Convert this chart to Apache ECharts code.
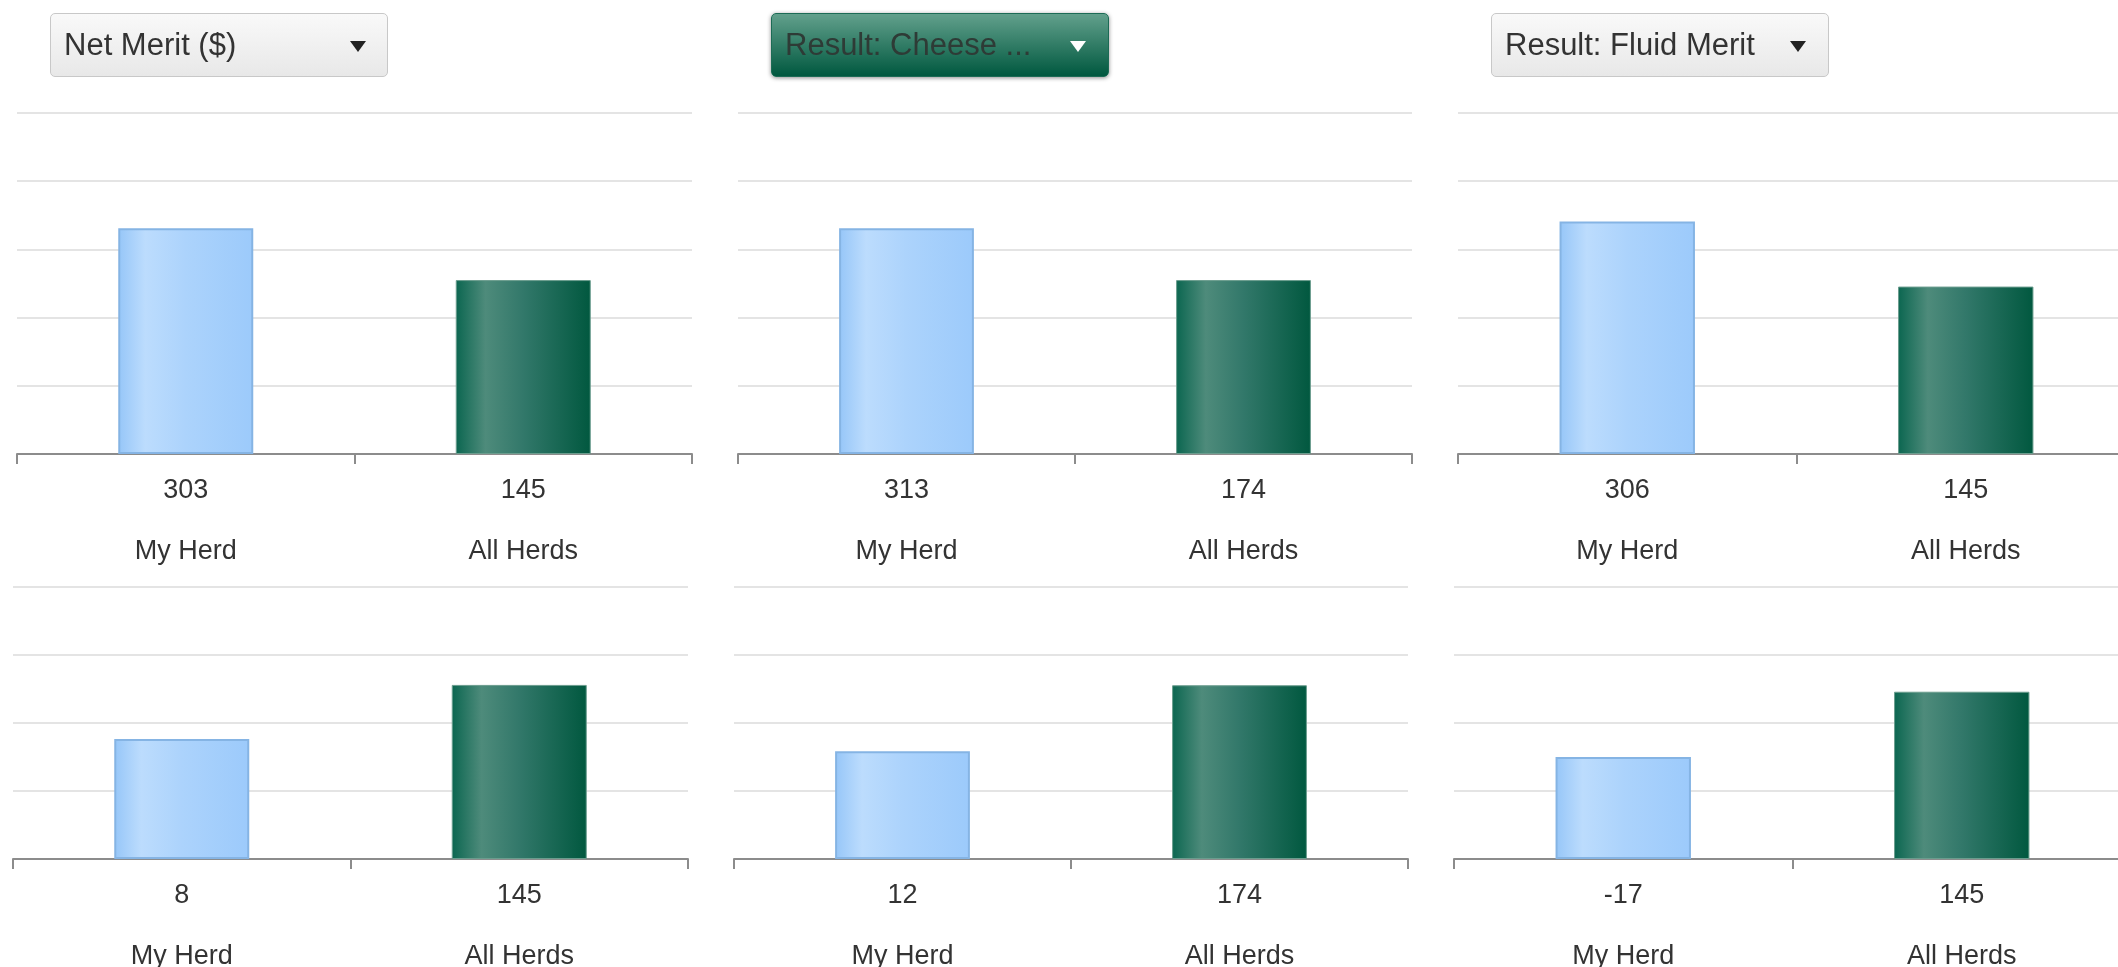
<!DOCTYPE html>
<html>
<head>
<meta charset="utf-8">
<script src="https://cdn.jsdelivr.net/npm/echarts@6/dist/echarts.min.js"></script>
<style>
  html, body { margin: 0; padding: 0; background: #fff; overflow: hidden; }
  #chart { position: absolute; left: 0; top: 0; width: 2118px; height: 967px; }
  .dd {
    position: absolute; top: 13px; height: 64px; width: 338px;
    box-sizing: border-box; border: 1px solid #c8c8c8; border-radius: 5px;
    background: linear-gradient(#f9f9f9, #e8e8e8);
    font-family: Arial, 'Liberation Sans', sans-serif; font-size: 31px; color: #333;
    line-height: 62px; padding-left: 13px; white-space: nowrap; z-index: 2;
  }
  .dd .arrow {
    position: absolute; top: 27px; width: 0; height: 0;
    border-left: 8px solid transparent; border-right: 8px solid transparent;
    border-top: 11px solid #222;
  }
  .dd.active {
    border: 1px solid #1c6b55;
    background: linear-gradient(#62a08c, #00583f);
    box-shadow: 0 1px 4px rgba(0,0,0,0.45);
    color: #2e3b36;
  }
  .dd.active .arrow { border-top-color: #fff; }
</style>
</head>
<body>
<div id="chart"></div>
<div id="dropdowns"></div>
<script>
const categories = ['My Herd', 'All Herds'];
const dropdownTitles = ['Net Merit ($)', 'Result: Cheese ...', 'Result: Fluid Merit'];

// bar heights (unlabelled value axis, 20 per gridline)
const topBarHeights = [[66.2, 51.0], [66.2, 51.0], [68.2, 49.1]];
const bottomBarHeights = [[35.3, 51.2], [31.7, 51.1], [30.0, 49.2]];

// numbers printed under each bar
const topValueLabels = [[303, 145], [313, 174], [306, 145]];
const bottomValueLabels = [[8, 145], [12, 174], [-17, 145]];

const topGrids = [
  { left: 17, width: 675 },
  { left: 738, width: 674 },
  { left: 1458, width: 677 },
];
const bottomGrids = [
  { left: 13, width: 675 },
  { left: 734, width: 674 },
  { left: 1454, width: 677 },
];
const ddPos = [
  { left: 50, arrow: 299 },
  { left: 771, arrow: 298 },
  { left: 1491, arrow: 298 },
];

// dropdowns
const ddBox = document.getElementById('dropdowns');
dropdownTitles.forEach((t, i) => {
  const d = document.createElement('div');
  d.className = 'dd' + (i === 1 ? ' active' : '');
  d.style.left = ddPos[i].left + 'px';
  d.textContent = t;
  const a = document.createElement('span');
  a.className = 'arrow';
  a.style.left = ddPos[i].arrow + 'px';
  d.appendChild(a);
  ddBox.appendChild(d);
});

const blueFill = new echarts.graphic.LinearGradient(0, 0, 1, 0, [
  { offset: 0, color: '#96c6f8' },
  { offset: 0.2, color: '#bcdcfd' },
  { offset: 0.5, color: '#acd3fc' },
  { offset: 1, color: '#9ccafb' },
]);
const greenFill = new echarts.graphic.LinearGradient(0, 0, 1, 0, [
  { offset: 0, color: '#0b6650' },
  { offset: 0.22, color: '#4e8b7b' },
  { offset: 0.5, color: '#32786a' },
  { offset: 1, color: '#01583f' },
]);

const font = "Arial, 'Liberation Sans', sans-serif";
const grid = [], xAxis = [], yAxis = [], series = [];

function addPanel(box, top, height, max, heights, labels) {
  const i = grid.length;
  grid.push({
    left: box.left, width: box.width, top: top, height: height,
    containLabel: false, outerBoundsMode: 'none',
  });
  xAxis.push({
    type: 'category',
    gridIndex: i,
    data: categories,
    axisLine: { lineStyle: { color: '#8c8c8c', width: 2 } },
    axisTick: { show: true, length: 10, lineStyle: { color: '#8c8c8c', width: 2 } },
    axisLabel: {
      margin: 6,
      interval: 0,
      formatter: (val, idx) => '{v|' + labels[idx] + '}\n{n|' + val + '}',
      rich: {
        v: { fontSize: 27, lineHeight: 61, color: '#333', fontFamily: font },
        n: { fontSize: 27, lineHeight: 61, color: '#333', fontFamily: font },
      },
    },
  });
  yAxis.push({
    type: 'value',
    gridIndex: i,
    min: 0,
    max: max,
    interval: 20,
    axisLabel: { show: false },
    axisLine: { show: false },
    axisTick: { show: false },
    splitLine: { lineStyle: { color: '#e4e4e4', width: 2 } },
  });
  series.push({
    type: 'bar',
    xAxisIndex: i,
    yAxisIndex: i,
    barWidth: '40%',
    silent: true,
    data: heights.map((h, k) => ({
      value: h,
      itemStyle: k === 0
        ? { color: blueFill, borderColor: '#85b4e4', borderWidth: 2 }
        : { color: greenFill, borderColor: '#6b9d8e', borderWidth: 1 },
    })),
  });
}

for (let p = 0; p < 3; p++) {
  addPanel(topGrids[p], 113, 341, 100, topBarHeights[p], topValueLabels[p]);
}
for (let p = 0; p < 3; p++) {
  addPanel(bottomGrids[p], 587, 272, 80, bottomBarHeights[p], bottomValueLabels[p]);
}

const chart = echarts.init(document.getElementById('chart'));
chart.setOption({
  animation: false,
  textStyle: { fontFamily: font },
  grid, xAxis, yAxis, series,
});
</script>
</body>
</html>
